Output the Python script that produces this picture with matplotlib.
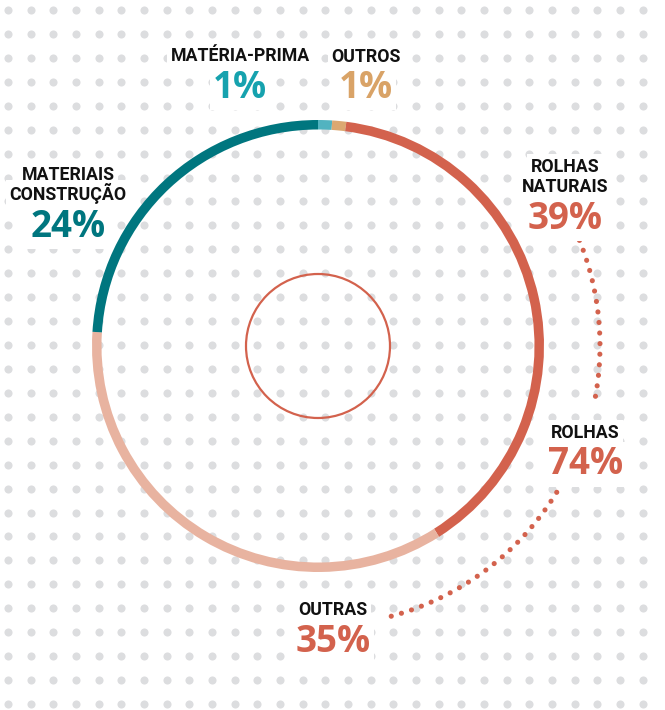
import numpy as np
import matplotlib.pyplot as plt

W, H = 665, 710

# ring data, clockwise from the top
labels = ["MATÉRIA-PRIMA", "OUTROS", "ROLHAS\nNATURAIS", "OUTRAS", "MATERIAIS\nCONSTRUÇÃO"]
shares = [1, 1, 39, 35, 24]
ring_colors = ["#52b3c0", "#dca871", "#d3624d", "#e8b3a0", "#00767f"]
pct_colors = ["#16a2ae", "#d9a367", "#d3624d", "#d3624d", "#00767f"]

rolhas_total = 74
rolhas_label = "ROLHAS"

plt.rcParams["font.family"] = ["Roboto", "DejaVu Sans"]
pct_font = ["Open Sans", "DejaVu Sans"]

fig = plt.figure(figsize=(W / 100, H / 100), dpi=100)
ax = fig.add_axes([0, 0, 1, 1])

# dotted background
gx = 8 + 22.67 * np.arange(30)
gy = 10 + 23.93 * np.arange(30)
gx = gx[gx < W]
gy = gy[gy < H]
XX, YY = np.meshgrid(gx, gy)
ax.scatter(XX.ravel(), H - YY.ravel(), s=34, color="#dcdddf", lw=0, zorder=0)

cx, cy = 318, H - 346
R = 226
ax.pie(shares, colors=ring_colors, startangle=90, counterclock=False,
       radius=R, center=(cx, cy), wedgeprops=dict(width=9.5, edgecolor="none"))
inner = plt.Circle((cx, cy), 72, fill=False, color="#d3624d", lw=1.6, zorder=3)
ax.add_patch(inner)

# dotted connectors (concentric arcs)
def arc(r, a0, a1):
    t = np.radians(np.linspace(a0, a1, 200))
    ax.plot(cx + r * np.cos(t), cy + r * np.sin(t), color="#d3624d", lw=3.7,
            ls=(0, (0.01, 2.05)), dash_capstyle="round", zorder=2)

arc(282, 22, -11)
arc(280, -31.5, -76)

box = dict(facecolor="white", edgecolor="none", pad=2.5)

def label(x, y_top, text, pct, color):
    lines = text.split("\n")
    y = y_top
    for ln in lines:
        ax.text(x, H - y, ln, ha="center", va="baseline", fontsize=12.8,
                fontweight="bold", color="#111111", bbox=box, zorder=4)
        y += 20.5
    ax.text(x, H - (y + 16), pct, ha="center", va="baseline", fontsize=26.5,
            fontweight="bold", family=pct_font, color=color, bbox=box, zorder=4)

# label positions (baseline of first line, px from top)
pos = [(240, 61), (366, 61.5), (565, 172), (333, 615), (68, 180)]
for (x, y), t, s, c in zip(pos, labels, shares, pct_colors):
    label(x, y, t, f"{s}%", c)
label(585.5, 438, rolhas_label, f"{rolhas_total}%", "#d3624d")

ax.set_xlim(0, W)
ax.set_ylim(0, H)
ax.axis("off")
fig.savefig("out.png", dpi=100, facecolor="white")
